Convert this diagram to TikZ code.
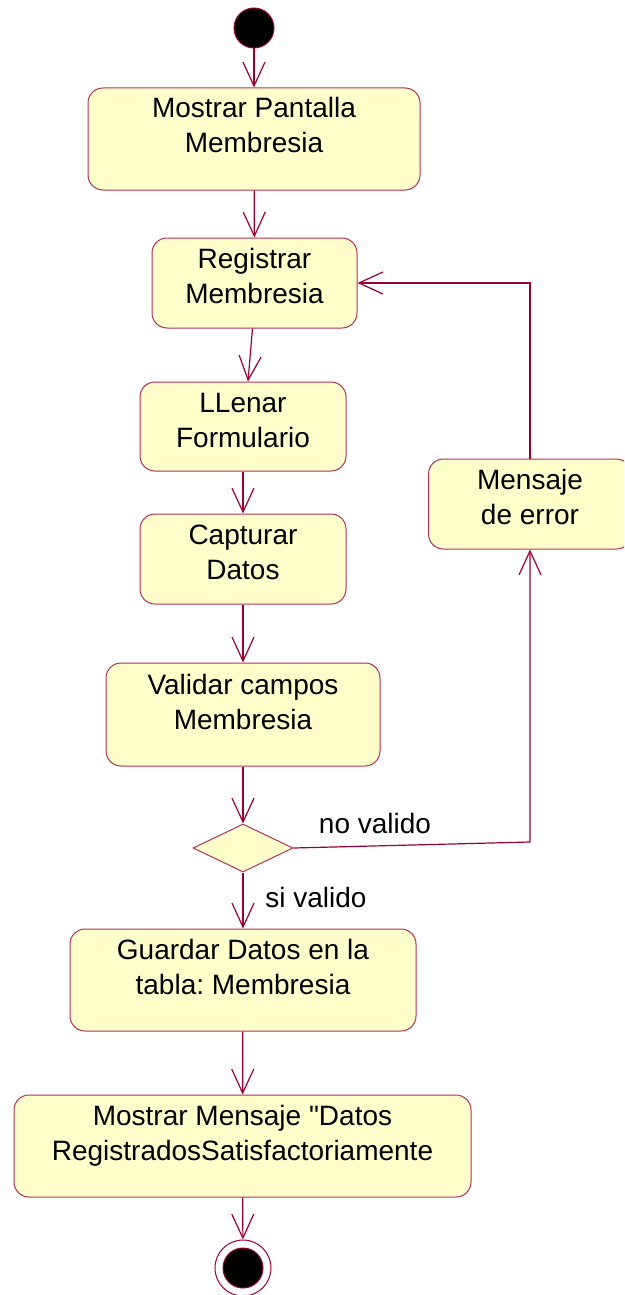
\documentclass[tikz,border=0pt]{standalone}
\usepackage{fontspec}
\setmainfont{Liberation Sans}[Ligatures=TeXOff]
\frenchspacing
\usetikzlibrary{arrows.meta, shapes.geometric}
\definecolor{UMLLine}{HTML}{990033}
\definecolor{UMLEdge}{HTML}{B0305A}
\definecolor{UMLFill}{HTML}{FFFFCC}

\begin{document}
\begin{tikzpicture}[
      x=1pt, y=-1pt,
      act/.style={draw=UMLEdge, fill=UMLFill, rounded corners=15pt, line width=1pt, inner sep=0pt},
      txt/.style={font=\fontsize{28}{35}\selectfont, align=center, inner sep=0pt},
      lbl/.style={font=\fontsize{28}{35}\selectfont, inner sep=0pt},
      cond/.style={diamond, draw=UMLEdge, fill=UMLFill, line width=1pt, minimum width=100pt, minimum height=48pt, inner sep=0pt},
      startnode/.style={circle, fill=black, draw=UMLLine, line width=1pt, minimum size=40pt, inner sep=0pt},
      flow/.style={UMLLine, line width=1.2pt, -{Straight Barb[length=24pt, width=22pt, line width=1.2pt]}}
    ]
      \path[use as bounding box, clip] (0,0) rectangle (624,1295);
      % activities
      \node[startnode] (ini) at (254,28) {};
      \node[act, minimum width=332pt, minimum height=102pt] (b1) at (254,139) {};
      \node[act, minimum width=205pt, minimum height=90pt] (b2) at (254.5,283) {};
      \node[act, minimum width=206pt, minimum height=89pt] (b3) at (243,426.5) {};
      \node[act, minimum width=206pt, minimum height=90pt] (b4) at (243,559) {};
      \node[act, minimum width=274pt, minimum height=103pt] (b5) at (243,714.5) {};
      \node[cond] (dec) at (243,848) {};
      \node[act, minimum width=346pt, minimum height=102pt] (b6) at (243,980) {};
      \node[act, minimum width=457pt, minimum height=102pt] (b7) at (242.5,1146) {};
      \node[act, minimum width=203pt, minimum height=90pt] (err) at (530,504) {};
      \node[circle, draw=UMLLine, line width=1pt, minimum size=56pt, inner sep=0pt] (fin) at (243,1268) {};
      \node[startnode] (finc) at (fin.center) {};
      % texts
      \node[txt] (b1t) at ([yshift=14pt]b1.center) {Mostrar Pantalla\\Membresia};
      \node[txt] (b2t) at ([yshift=7pt]b2.center) {Registrar\\Membresia};
      \node[txt] (b3t) at ([yshift=6pt]b3.center) {LLenar\\Formulario};
      \node[txt] (b4t) at ([yshift=7pt]b4.center) {Capturar\\Datos};
      \node[txt] (b5t) at ([yshift=13pt]b5.center) {Validar campos\\Membresia};
      \node[txt] (b6t) at ([yshift=13pt]b6.center) {Guardar Datos en la\\tabla: Membresia};
      \node[txt] (b7t) at ([yshift=10pt]b7.center) {Mostrar Mensaje "Datos\\RegistradosSatisfactoriamente};
      \node[txt] (errt) at ([yshift=7pt]err.center) {Mensaje\\de error};
      \node[lbl] (nvl) at (375,823) {no valido};
      \node[lbl] (svl) at (316,897) {si valido};
      % flows
      \draw[flow] (ini) -- (b1);
      \draw[flow] (b1) -- (b2);
      \draw[flow] ([xshift=-2pt]b2.south) -- ([xshift=5pt]b3.north);
      \draw[flow] (b3) -- (b4);
      \draw[flow] (b4) -- (b5);
      \draw[flow] (b5) -- (dec);
      \draw[flow] (dec) -- (b6);
      \draw[flow] (b6) -- (b7);
      \draw[flow] (b7) -- (fin);
      \coordinate (nvc) at (530,842);
      \draw[flow] (dec.east) -- (nvc) -- (err.south);
      \draw[flow] (err.north) |- (b2.east);
    \end{tikzpicture}
\end{document}
